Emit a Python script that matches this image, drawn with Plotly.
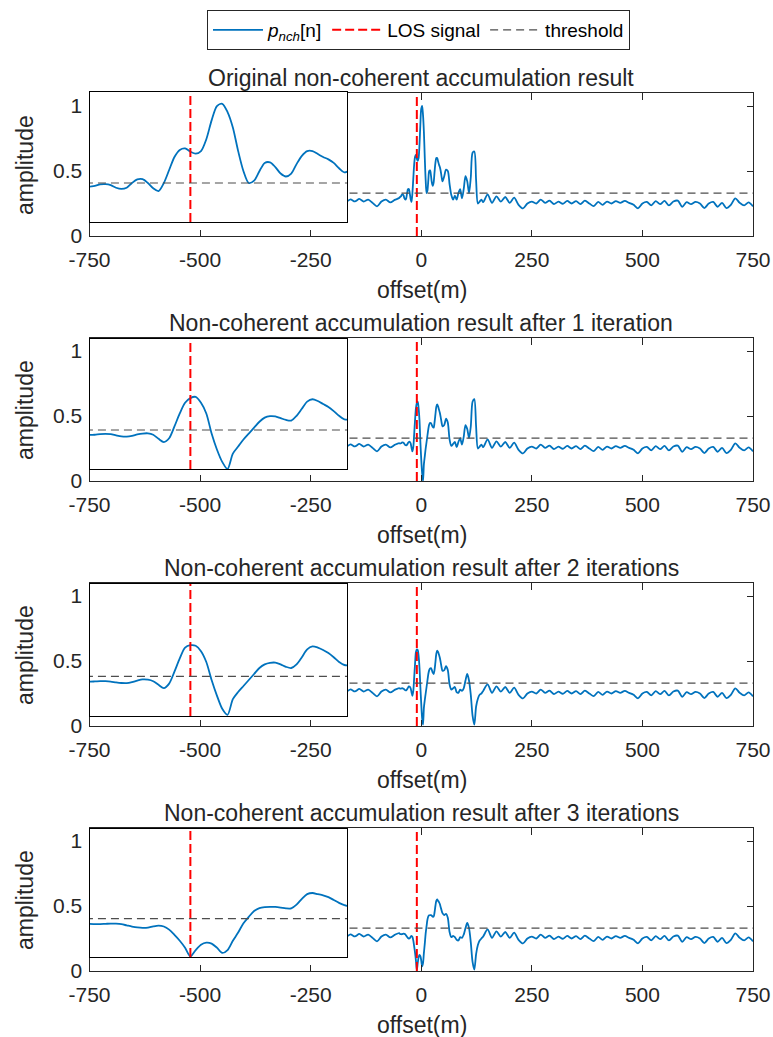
import plotly.graph_objects as go

# ---------------- data ----------------
offset_left = list(range(-750, -40, 10))          # -750 ... -50 m
amp_left = [
    0.285, 0.300, 0.280, 0.292, 0.275, 0.296, 0.302, 0.281, 0.270, 0.290,
    0.286, 0.301, 0.276, 0.281, 0.295, 0.272, 0.286, 0.291, 0.279, 0.298,
    0.276, 0.266, 0.290, 0.284, 0.271, 0.280, 0.294, 0.289, 0.270, 0.281,
    0.286, 0.265, 0.280, 0.291, 0.275, 0.269, 0.285, 0.280, 0.262, 0.276,
    0.290, 0.279, 0.271, 0.286, 0.275, 0.264, 0.281, 0.290, 0.270, 0.276,
    0.284, 0.266, 0.272, 0.281, 0.274, 0.266, 0.279, 0.271,
    0.262, 0.282, 0.266, 0.285, 0.265, 0.280, 0.255, 0.228, 0.265, 0.280,
    0.258, 0.278, 0.292,
]

offset_center = list(range(-48, 50, 2)) + list(range(52, 144, 4))   # -48 ... 140 m

amp_center_orig = [
    0.300, 0.305, 0.318, 0.320, 0.312, 0.290, 0.280, 0.290, 0.330, 0.360,
    0.362, 0.330, 0.285, 0.262, 0.330, 0.440, 0.550, 0.610, 0.623, 0.595,
    0.578, 0.600, 0.700, 0.860, 0.980, 1.000, 0.930, 0.800, 0.600, 0.430,
    0.330, 0.350, 0.430, 0.500, 0.505, 0.465, 0.410, 0.385, 0.410, 0.490,
    0.560, 0.600, 0.600, 0.575, 0.550, 0.530, 0.500, 0.455, 0.420,
    0.460, 0.510, 0.500, 0.400, 0.315, 0.280, 0.310, 0.280, 0.330, 0.360,
    0.290, 0.360, 0.460, 0.420, 0.330, 0.450, 0.640, 0.650, 0.430, 0.250,
    0.265, 0.280, 0.260,
]
amp_center_iter1 = [
    0.288, 0.290, 0.295, 0.297, 0.295, 0.285, 0.276, 0.274, 0.280, 0.292,
    0.300, 0.302, 0.290, 0.255, 0.228, 0.260, 0.360, 0.470, 0.560, 0.600,
    0.610, 0.560, 0.470, 0.300, 0.165, 0.060, 0.000, 0.130, 0.190, 0.250,
    0.300, 0.350, 0.400, 0.435, 0.447, 0.445, 0.430, 0.415, 0.410, 0.450,
    0.510, 0.570, 0.590, 0.575, 0.550, 0.525, 0.490, 0.450, 0.420,
    0.430, 0.480, 0.450, 0.320, 0.270, 0.285, 0.300, 0.260, 0.300, 0.330,
    0.280, 0.340, 0.430, 0.400, 0.330, 0.420, 0.610, 0.630, 0.420, 0.250,
    0.265, 0.280, 0.260,
]
amp_center_iter2 = [
    0.287, 0.288, 0.290, 0.290, 0.287, 0.280, 0.275, 0.274, 0.282, 0.295,
    0.305, 0.303, 0.290, 0.260, 0.232, 0.270, 0.370, 0.480, 0.570, 0.590,
    0.585, 0.540, 0.450, 0.300, 0.170, 0.060, 0.010, 0.140, 0.200, 0.250,
    0.300, 0.350, 0.400, 0.430, 0.443, 0.445, 0.430, 0.410, 0.400, 0.430,
    0.490, 0.555, 0.580, 0.570, 0.550, 0.525, 0.490, 0.450, 0.425,
    0.430, 0.460, 0.430, 0.320, 0.280, 0.290, 0.300, 0.260, 0.255, 0.280,
    0.270, 0.290, 0.350, 0.400, 0.350, 0.240, 0.080, 0.010, 0.150, 0.210,
    0.240, 0.250, 0.270,
]
amp_center_iter3 = [
    0.284, 0.283, 0.283, 0.285, 0.287, 0.286, 0.282, 0.272, 0.262, 0.254,
    0.250, 0.252, 0.263, 0.270, 0.262, 0.235, 0.190, 0.140, 0.080, 0.005,
    0.060, 0.105, 0.123, 0.115, 0.080, 0.035, 0.060, 0.140, 0.210, 0.290,
    0.345, 0.395, 0.420, 0.428, 0.430, 0.430, 0.425, 0.418, 0.418, 0.450,
    0.500, 0.540, 0.550, 0.540, 0.530, 0.515, 0.490, 0.465, 0.445,
    0.430, 0.440, 0.410, 0.300, 0.260, 0.270, 0.260, 0.240, 0.235, 0.260,
    0.255, 0.280, 0.330, 0.370, 0.330, 0.220, 0.070, 0.010, 0.130, 0.200,
    0.235, 0.250, 0.265,
]

offset_right = list(range(150, 760, 10))          # 150 ... 750 m
amp_right = [
    0.320, 0.255, 0.305, 0.265, 0.300, 0.255, 0.295, 0.240, 0.212, 0.250,
    0.265, 0.250, 0.280, 0.255, 0.272, 0.245, 0.265, 0.248, 0.270, 0.250,
    0.268, 0.245, 0.272, 0.250, 0.230, 0.262, 0.240, 0.265, 0.250, 0.268,
    0.255, 0.270, 0.255, 0.240, 0.213, 0.250, 0.262, 0.235, 0.268, 0.245,
    0.270, 0.235, 0.265, 0.272, 0.225, 0.260, 0.245, 0.262, 0.250, 0.215,
    0.250, 0.262, 0.225, 0.255, 0.215, 0.240, 0.290, 0.255, 0.235, 0.258,
    0.228,
]

panel_titles = [
    "Original non-coherent accumulation result",
    "Non-coherent accumulation result after 1 iteration",
    "Non-coherent accumulation result after 2 iterations",
    "Non-coherent accumulation result after 3 iterations",
]
panel_centers = [amp_center_orig, amp_center_iter1, amp_center_iter2, amp_center_iter3]

los_offset = -10
threshold = 0.33
x_ticks = [-750, -500, -250, 0, 250, 500, 750]
y_ticks = [0, 0.5, 1]
y_ticklabels = ["0", "0.5", "1"]
x_range = [-750, 750]
y_range = [0, 1.1]
inset_x_range = [-48, 49]

# ---------------- figure ----------------
W, H = 773, 1037
BLUE = "#0072BD"
RED = "#FF0000"
GRAY = "#4d4d4d"
TXT = "#262626"
FONT = "Liberation Sans, Arial, sans-serif"

def px_x(p):
    return p / W

def px_y(p):
    return 1 - p / H

main_top = [93, 338, 583, 828]
main_bot = [236, 481, 726, 971]
inset_top = [92, 339, 584, 829]
inset_bot = [222, 469, 716, 957]
x_left, x_right = 89.5, 753
inset_right = 347

fig = go.Figure()
layout = {}

for k in range(4):
    mi = k + 1
    ii = k + 5
    x_all = offset_left + offset_center + offset_right
    y_all = amp_left + panel_centers[k] + amp_right
    for ax, first in ((mi, True), (ii, False)):
        xa = "x" if ax == 1 else f"x{ax}"
        ya = "y" if ax == 1 else f"y{ax}"
        show = (k == 0 and first)
        fig.add_trace(go.Scatter(
            x=x_all, y=y_all, mode="lines", xaxis=xa, yaxis=ya,
            line=dict(color=BLUE, width=1.8, shape="spline", smoothing=0.8),
            name="<i>p</i><sub><i>nch</i></sub>[n]", showlegend=show,
            legendrank=1, hoverinfo="skip"))
        fig.add_trace(go.Scatter(
            x=[los_offset, los_offset], y=y_range, mode="lines", xaxis=xa, yaxis=ya,
            line=dict(color=RED, width=2, dash="9px,4px"),
            name="LOS signal", showlegend=show, legendrank=2, hoverinfo="skip"))
        fig.add_trace(go.Scatter(
            x=x_range, y=[threshold, threshold], mode="lines", xaxis=xa, yaxis=ya,
            line=dict(color=GRAY, width=1.2, dash="8px,5px"),
            name="threshold", showlegend=show, legendrank=3, hoverinfo="skip"))

    xname = "xaxis" if mi == 1 else f"xaxis{mi}"
    yname = "yaxis" if mi == 1 else f"yaxis{mi}"
    layout[xname] = dict(
        domain=[px_x(x_left), px_x(x_right)], anchor="y" if mi == 1 else f"y{mi}",
        range=x_range, tickvals=x_ticks, ticktext=[str(v) for v in x_ticks],
        ticks="inside", ticklen=6.5, tickwidth=1, tickcolor=TXT,
        showline=True, linecolor=TXT, linewidth=1, mirror="ticks",
        showgrid=False, zeroline=False, automargin=False,
        ticklabelstandoff=5,
        tickfont=dict(family=FONT, size=21, color=TXT))
    layout[yname] = dict(
        domain=[px_y(main_bot[k]), px_y(main_top[k])], anchor="x" if mi == 1 else f"x{mi}",
        range=y_range, tickvals=y_ticks, ticktext=y_ticklabels,
        ticks="inside", ticklen=6.5, tickwidth=1, tickcolor=TXT,
        showline=True, linecolor=TXT, linewidth=1, mirror="ticks",
        showgrid=False, zeroline=False, automargin=False,
        ticklabelstandoff=2,
        tickfont=dict(family=FONT, size=21, color=TXT))
    layout[f"xaxis{ii}"] = dict(
        domain=[px_x(x_left), px_x(inset_right)], anchor=f"y{ii}",
        range=inset_x_range, showticklabels=False, ticks="",
        showline=True, linecolor="#000000", linewidth=1, mirror=True,
        showgrid=False, zeroline=False, automargin=False)
    layout[f"yaxis{ii}"] = dict(
        domain=[px_y(inset_bot[k]), px_y(inset_top[k])], anchor=f"x{ii}",
        range=y_range, showticklabels=False, ticks="",
        showline=True, linecolor="#000000", linewidth=1, mirror=True,
        showgrid=False, zeroline=False, automargin=False)

annotations = []
for k in range(4):
    dy = 245 * k
    annotations.append(dict(
        text=panel_titles[k], xref="paper", yref="paper",
        x=px_x(421.3), y=px_y(77.5 + dy), xanchor="center", yanchor="middle",
        showarrow=False, font=dict(family=FONT, size=23, color=TXT)))
    annotations.append(dict(
        text="offset(m)", xref="paper", yref="paper",
        x=px_x(421.5), y=px_y(290 + dy), xanchor="center", yanchor="middle",
        showarrow=False, font=dict(family=FONT, size=23, color=TXT)))
    annotations.append(dict(
        text="amplitude", xref="paper", yref="paper", textangle=-90,
        x=px_x(25), y=px_y(165 + dy), xanchor="center", yanchor="middle",
        showarrow=False, font=dict(family=FONT, size=23, color=TXT)))

fig.update_layout(
    width=W, height=H,
    margin=dict(l=0, r=0, t=0, b=0, pad=0, autoexpand=False),
    paper_bgcolor="white", plot_bgcolor="white",
    showlegend=True,
    legend=dict(orientation="h", x=px_x(418.5), xanchor="center",
                y=px_y(10), yanchor="top",
                bordercolor="#262626", borderwidth=1, bgcolor="white",
                font=dict(family=FONT, size=19, color="#000000"),
                itemwidth=50, tracegroupgap=0),
    annotations=annotations,
    **layout)

fig.write_html("out.html")
